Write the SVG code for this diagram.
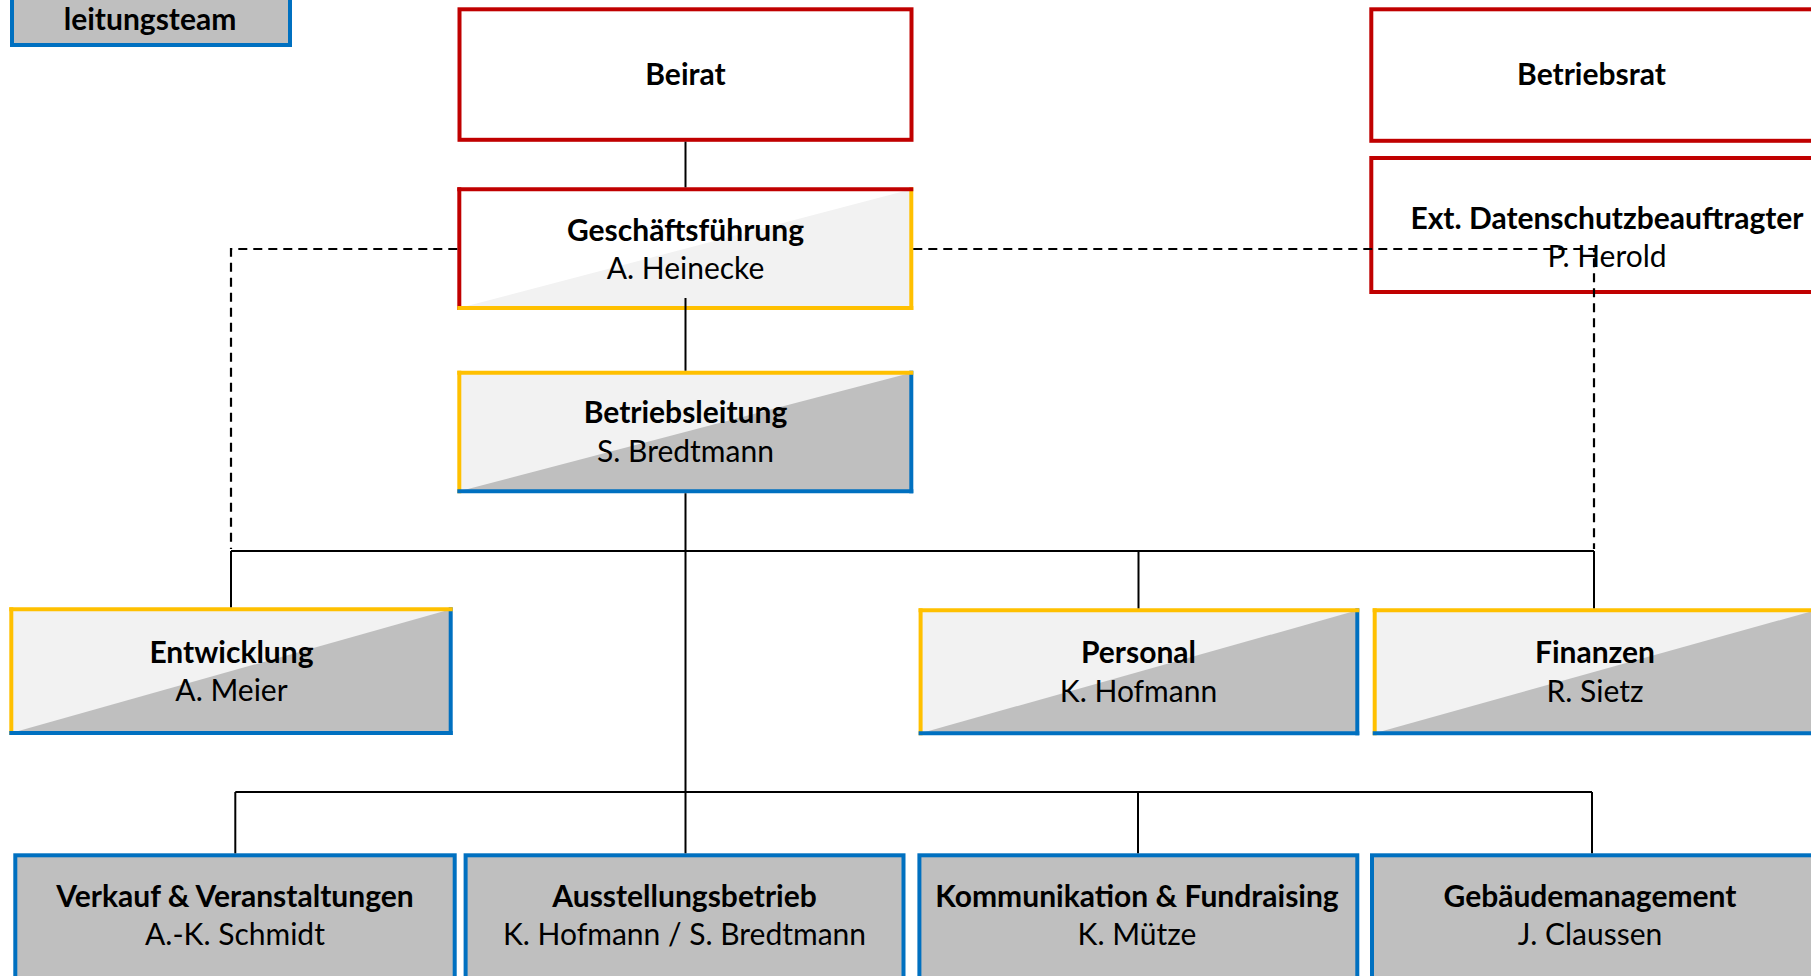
<svg xmlns="http://www.w3.org/2000/svg" width="1811" height="976" viewBox="0 0 1811 976">
<style>
  .t{font-family:Lato,"Open Sans","Liberation Sans",sans-serif;font-size:30px;font-weight:700;text-anchor:middle;fill:#000}
  .s{font-family:Lato,"Open Sans","Liberation Sans",sans-serif;font-size:30px;font-weight:400;text-anchor:middle;fill:#000}
  .bR{stroke:#C00000;stroke-width:4;stroke-linecap:square;fill:none}
  .bY{stroke:#FFC000;stroke-width:4;stroke-linecap:square;fill:none}
  .bB{stroke:#0070C0;stroke-width:4;stroke-linecap:square;fill:none}
  .redBox{fill:#FFFFFF;stroke:#C00000;stroke-width:4}
  .blueBox{fill:#BFBFBF;stroke:#0070C0;stroke-width:4}
  .light{fill:#F2F2F2}
  .gray{fill:#BFBFBF}
  .white{fill:#FFFFFF}
  .con{stroke:#000;stroke-width:2;fill:none}
  .dash{stroke:#000;stroke-width:2.2;fill:none;stroke-dasharray:9 6}
</style>

<g id="leitungsteam">
  <rect class="blueBox" x="12" y="-80" width="278" height="125"/>
  <text class="t" x="150" y="30">leitungsteam</text>
</g>

<g id="beirat">
  <rect class="redBox" x="459.5" y="9.3" width="452" height="130.5"/>
  <text class="t" x="685.5" y="85">Beirat</text>
</g>

<g id="betriebsrat">
  <rect class="redBox" x="1371.3" y="9.3" width="442" height="131.5"/>
  <text class="t" x="1591.5" y="85">Betriebsrat</text>
</g>

<g id="datenschutz">
  <rect class="redBox" x="1371.3" y="158" width="442" height="134"/>
  <text class="t" x="1607" y="228.5">Ext. Datenschutzbeauftragter</text>
  <text class="s" x="1607" y="267">P. Herold</text>
</g>

<g id="geschaeftsfuehrung">
  <rect class="white" x="459.3" y="189.3" width="452" height="118.7"/>
  <polygon class="light" points="459.3,308 911.3,189.3 911.3,308"/>
  <line class="bR" x1="459.3" y1="189.3" x2="459.3" y2="308"/>
  <line class="bY" x1="911.3" y1="189.3" x2="911.3" y2="308"/>
  <line class="bR" x1="459.3" y1="189.3" x2="911.3" y2="189.3"/>
  <line class="bY" x1="459.3" y1="308" x2="911.3" y2="308"/>
  <text class="t" x="685.5" y="241">Geschäftsführung</text>
  <text class="s" x="685.5" y="279">A. Heinecke</text>
</g>

<g id="betriebsleitung">
  <rect class="light" x="459.3" y="372.7" width="452" height="118.6"/>
  <polygon class="gray" points="459.3,491.3 911.3,372.7 911.3,491.3"/>
  <line class="bY" x1="459.3" y1="372.7" x2="459.3" y2="491.3"/>
  <line class="bB" x1="911.3" y1="372.7" x2="911.3" y2="491.3"/>
  <line class="bY" x1="459.3" y1="372.7" x2="911.3" y2="372.7"/>
  <line class="bB" x1="459.3" y1="491.3" x2="911.3" y2="491.3"/>
  <text class="t" x="685.5" y="422.5">Betriebsleitung</text>
  <text class="s" x="685.5" y="461.5">S. Bredtmann</text>
</g>

<g id="entwicklung">
  <rect class="light" x="11.3" y="609.3" width="439.4" height="123.7"/>
  <polygon class="gray" points="11.3,733 450.7,609.3 450.7,733"/>
  <line class="bY" x1="11.3" y1="609.3" x2="11.3" y2="733"/>
  <line class="bB" x1="450.7" y1="609.3" x2="450.7" y2="733"/>
  <line class="bY" x1="11.3" y1="609.3" x2="450.7" y2="609.3"/>
  <line class="bB" x1="11.3" y1="733" x2="450.7" y2="733"/>
  <text class="t" x="231.5" y="663">Entwicklung</text>
  <text class="s" x="231.5" y="700.5">A. Meier</text>
</g>

<g id="personal">
  <rect class="light" x="920.6" y="610.3" width="436.7" height="123"/>
  <polygon class="gray" points="920.6,733.3 1357.3,610.3 1357.3,733.3"/>
  <line class="bY" x1="920.6" y1="610.3" x2="920.6" y2="733.3"/>
  <line class="bB" x1="1357.3" y1="610.3" x2="1357.3" y2="733.3"/>
  <line class="bY" x1="920.6" y1="610.3" x2="1357.3" y2="610.3"/>
  <line class="bB" x1="920.6" y1="733.3" x2="1357.3" y2="733.3"/>
  <text class="t" x="1138.5" y="663.3">Personal</text>
  <text class="s" x="1138.5" y="701.5">K. Hofmann</text>
</g>

<g id="finanzen">
  <rect class="light" x="1374.7" y="610.3" width="440.3" height="123"/>
  <polygon class="gray" points="1374.7,733.3 1815,610.3 1815,733.3"/>
  <line class="bY" x1="1374.7" y1="610.3" x2="1374.7" y2="733.3"/>
  <line class="bB" x1="1815" y1="610.3" x2="1815" y2="733.3"/>
  <line class="bY" x1="1374.7" y1="610.3" x2="1815" y2="610.3"/>
  <line class="bB" x1="1374.7" y1="733.3" x2="1815" y2="733.3"/>
  <text class="t" x="1595" y="663.3">Finanzen</text>
  <text class="s" x="1595" y="701.5">R. Sietz</text>
</g>

<g id="verkauf">
  <rect class="blueBox" x="15.3" y="855.3" width="439.4" height="135"/>
  <text class="t" x="235" y="906.7">Verkauf &amp; Veranstaltungen</text>
  <text class="s" x="235" y="945">A.-K. Schmidt</text>
</g>

<g id="ausstellungsbetrieb">
  <rect class="blueBox" x="465.6" y="855.3" width="437.9" height="135"/>
  <text class="t" x="684.5" y="906.7">Ausstellungsbetrieb</text>
  <text class="s" x="684.5" y="945">K. Hofmann / S. Bredtmann</text>
</g>

<g id="kommunikation">
  <rect class="blueBox" x="919.4" y="855.3" width="437.9" height="135"/>
  <text class="t" x="1137" y="906.7">Kommunikation &amp; Fundraising</text>
  <text class="s" x="1137" y="945">K. Mütze</text>
</g>

<g id="gebaeudemanagement">
  <rect class="blueBox" x="1372" y="855.3" width="443" height="135"/>
  <text class="t" x="1590" y="906.7">Gebäudemanagement</text>
  <text class="s" x="1590" y="945">J. Claussen</text>
</g>

<g id="connectors">
  <path class="con" d="M685.5,141.7 V187.3"/>
  <path class="con" d="M685.5,298 V370.7"/>
  <path class="con" d="M685.5,493.3 V853.3"/>
  <path class="con" d="M231,551 H1594"/>
  <path class="con" d="M231,551 V607.3"/>
  <path class="con" d="M1138.5,551 V608.3"/>
  <path class="con" d="M1594,551 V608.3"/>
  <path class="con" d="M235.3,792 H1592"/>
  <path class="con" d="M235.3,792 V853.3"/>
  <path class="con" d="M1138,792 V853.3"/>
  <path class="con" d="M1592,792 V853.3"/>
  <path class="dash" d="M457.3,249 H231 V549"/>
  <path class="dash" d="M913.3,249 H1594 V549"/>
</g>
</svg>
